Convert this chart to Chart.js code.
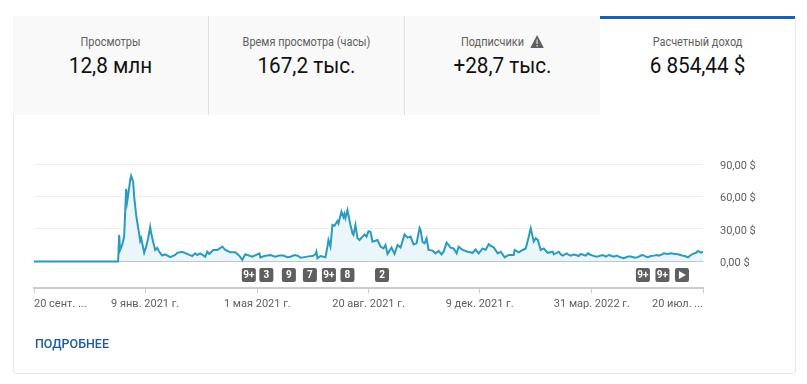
<!DOCTYPE html>
<html lang="ru">
<head>
<meta charset="utf-8">
<title>Расчетный доход</title>
<script src="https://cdn.jsdelivr.net/npm/chart.js@4"></script>
<style>
  html, body { margin: 0; padding: 0; background: #fff; }
  body { width: 807px; height: 384px; position: relative; overflow: hidden; font-family: Roboto, sans-serif; }
  .card { position: absolute; left: 13px; top: 16px; width: 781px; height: 356px; border: 1px solid #e8e8e8; border-radius: 3px; }
  .tab { position: absolute; top: 16px; height: 99px; width: 196px; background: #f9f9f9; border-right: 1px solid #e0e0e0; box-sizing: border-box; text-align: center; }
  .tab.active { background: #fff; border-right: 0; border-top: 3px solid #1a5fb4; }
  .tab .name { position: absolute; left: 0; right: 0; top: 18px; font-size: 12px; line-height: 16px; color: #606060; transform: scaleX(.91); }
  .tab.active .name { top: 15px; }
  .tab .num { position: absolute; left: 0; right: 0; top: 36px; font-size: 22px; line-height: 28px; color: #111; transform: scaleX(.94); }
  .tab.active .num { top: 33px; }
  .warn { margin-left: 7px; vertical-align: -2px; }
  #chartBox { position: absolute; left: 14px; top: 120px; width: 780px; height: 220px; }
  .more { position: absolute; left: 35px; top: 336px; font-size: 13px; font-weight: 500; line-height: 16px; color: #1c5aa8; transform: scaleX(.96); transform-origin: left; }
</style>
</head>
<body>
<div class="card"></div>
<div class="tab" style="left:13px"><div class="name">Просмотры</div><div class="num">12,8 млн</div></div>
<div class="tab" style="left:209px"><div class="name">Время просмотра (часы)</div><div class="num">167,2 тыс.</div></div>
<div class="tab" style="left:405px"><div class="name">Подписчики<svg class="warn" width="15" height="13" viewBox="0 0 15 13"><path d="M7.5 0L15 13H0z" fill="#5f5f5f"/><path d="M6.8 4.5h1.4v4.5H6.8zM6.8 10h1.4v1.4H6.8z" fill="#d8d8d8"/></svg></div><div class="num">+28,7 тыс.</div></div>
<div class="tab active" style="left:600px;width:195px"><div class="name">Расчетный доход</div><div class="num">6 854,44 $</div></div>
<div id="chartBox"><canvas id="revenueChart"></canvas></div>
<div class="more">ПОДРОБНЕЕ</div>

<script>
// Дни от 20 сент. 2020 и доход за день
const days = [
  0, 84, 85, 86, 88, 90, 91, 92, 93, 94, 96, 97, 99, 100, 102, 104, 105, 106, 107, 110, 112, 114, 116, 117, 119, 121,
  123, 125, 128, 131, 136, 141, 143, 148, 153, 158, 161, 163, 166, 171, 173, 175, 179, 183, 188, 191, 196, 201, 205, 208, 211, 218,
  225, 226, 230, 236, 241, 245, 249, 253, 256, 259, 261, 264, 266, 270, 274, 278, 281, 282, 283, 286, 291,
  293, 294, 296, 298, 300, 303, 304, 307, 309, 310, 311, 313,
  316, 318, 319, 321, 323, 325, 328, 330, 332, 334, 336, 338, 343, 346, 349, 351, 353, 357, 360, 363, 366, 370, 373, 376, 379, 382, 385, 386,
  388, 390, 392, 394, 398, 401, 404, 407, 409, 412, 416, 419, 422, 424, 428, 433, 438, 441, 444, 448, 451, 454, 456, 459, 463, 466, 470, 474, 479, 480, 484,
  488, 491, 494, 496, 499, 501, 503, 506, 509, 513,
  518, 519, 522, 524, 526, 528, 530, 532, 534, 536, 539, 541, 544, 546, 549, 551, 553, 556, 558, 561, 563, 566, 568, 571, 574,
  577, 579, 582, 584, 587, 589, 593, 596, 600, 603, 606, 608, 611, 613, 616, 619, 622, 624, 627, 629, 633, 636, 640, 643, 647,
  650, 653, 656, 659, 661, 663, 666, 668
];
const revenue = [
  0, 0, 24.5, 10.6, 15, 23, 44.6, 67, 55, 61, 75, 79, 73.7, 60, 43, 31, 26, 19, 21.5, 8, 13.7, 21.5, 32, 26, 18, 10.6,
  12.5, 9, 5.5, 6.5, 3.9, 6, 8, 9, 7, 5, 7.5, 6, 7.5, 4.4, 9, 6.9, 10.6, 10.6, 13.7, 10.6, 8.5, 8.5, 5.4, 1.4, 6.6, 4.4,
  7.5, 3.8, 5, 6, 4.5, 5.5, 5.4, 4, 4.4, 5.5, 6, 5, 3.5, 4, 4.7, 5, 6.6, 9, 3, 5, 3.9,
  13.7, 19.8, 13.7, 33.7, 33, 37.4, 35, 46, 41, 44, 40, 47.5,
  33.7, 26, 24.5, 33.7, 21.4, 19.8, 23, 25, 23, 28, 27.5, 18.3, 19.8, 13.7, 12, 15.2, 7, 12.8, 7, 15.2, 12.8, 25, 22, 23, 15.8, 16.8, 31, 29,
  18, 16.8, 21.4, 10.6, 10, 7.5, 9.7, 6.6, 9, 17.4, 12.7, 12, 7.5, 13.7, 10.6, 9, 8, 11, 7.5, 12, 10.6, 16, 14.3, 13, 7.5, 9, 3.8, 6, 6, 10.6, 8.4,
  10.6, 12, 22.9, 30.6, 18.3, 21.4, 19.9, 10.6, 12, 8,
  9, 6.6, 8, 9, 6.5, 5.4, 6.5, 7.5, 6, 5.4, 6.5, 6, 5, 7, 6, 5.4, 7.5, 6, 5.4, 4.5, 4.5, 5.5, 6, 4.5, 6,
  5, 4.5, 5.5, 4.5, 3.5, 3, 4.5, 4.5, 3.5, 4, 5.5, 6, 4.5, 4, 5, 5.4, 6, 5.4, 6.5, 7.5, 7, 7.5, 7, 6.6, 5.5,
  5, 3.8, 6, 7.5, 8, 9.7, 8.2, 9
];
const yTicks = [0, 30, 60, 90];
const yLabels = ['0,00 $', '30,00 $', '60,00 $', '90,00 $'];
const xTicks = [0, 111, 223, 334, 445, 557, 668];
const xLabels = ['20 сент. ...', '9 янв. 2021 г.', '1 мая 2021 г.', '20 авг. 2021 г.', '9 дек. 2021 г.', '31 мар. 2022 г.', '20 июл. ...'];
const badgeDays = [214.5, 232, 254.5, 275.5, 294.5, 313, 347.5, 608, 627.5, 647];
const badgeLabels = ['9+', '3', '9', '7', '9+', '8', '2', '9+', '9+', '▶'];

// Значки под линией
const badgePlugin = {
  id: 'badges',
  afterDraw(chart) {
    const ctx = chart.ctx;
    const x = chart.scales.x;
    ctx.save();
    ctx.font = 'bold 10px Roboto, sans-serif';
    ctx.textAlign = 'center';
    ctx.textBaseline = 'middle';
    badgeDays.forEach((d, i) => {
      const cx = x.getPixelForValue(d);
      ctx.fillStyle = '#5f5f5f';
      ctx.beginPath();
      ctx.roundRect(cx - 7, 148, 14, 14, 2);
      ctx.fill();
      ctx.fillStyle = '#fff';
      if (badgeLabels[i] === '▶') {
        ctx.beginPath();
        ctx.moveTo(cx - 3, 151);
        ctx.lineTo(cx + 4, 155);
        ctx.lineTo(cx - 3, 159);
        ctx.closePath();
        ctx.fill();
      } else {
        ctx.fillText(badgeLabels[i], cx, 155.5);
      }
    });
    ctx.restore();
  }
};

new Chart(document.getElementById('revenueChart'), {
  type: 'line',
  data: {
    datasets: [{
      data: days.map((d, i) => ({ x: d, y: revenue[i] })),
      borderColor: '#2b9abf',
      borderWidth: 2,
      backgroundColor: '#ebf6fa',
      fill: 'origin',
      pointRadius: 0,
      tension: 0
    }]
  },
  options: {
    responsive: true,
    maintainAspectRatio: false,
    animation: false,
    layout: { padding: { left: 20, top: 44, right: 0, bottom: 0 } },
    plugins: { legend: { display: false }, tooltip: { enabled: false } },
    scales: {
      x: {
        type: 'linear',
        min: 0,
        max: 668,
        afterBuildTicks: scale => { scale.ticks = xTicks.map(v => ({ value: v })); },
        afterFit: scale => { scale.height = 52; },
        border: { color: '#cccccc', width: 2 },
        grid: { drawOnChartArea: false, color: '#cccccc', tickLength: 5 },
        ticks: {
          align: 'inner',
          autoSkip: false,
          maxRotation: 0,
          padding: 5,
          color: '#606060',
          font: { family: 'Roboto', size: 11 },
          callback: v => xLabels[xTicks.indexOf(v)]
        }
      },
      y: {
        position: 'right',
        min: -24.5,
        max: 90,
        afterBuildTicks: scale => { scale.ticks = yTicks.map(v => ({ value: v })); },
        afterFit: scale => { scale.width = 91; },
        border: { display: false },
        grid: {
          drawTicks: false,
          color: c => (c.tick.value === 0 ? '#8d9a9f' : '#eeeeee')
        },
        ticks: {
          padding: 17,
          crossAlign: 'near',
          labelOffset: 2,
          color: '#606060',
          font: { family: 'Roboto', size: 11 },
          callback: v => yLabels[yTicks.indexOf(v)]
        }
      }
    }
  },
  plugins: [badgePlugin]
});
</script>
</body>
</html>
